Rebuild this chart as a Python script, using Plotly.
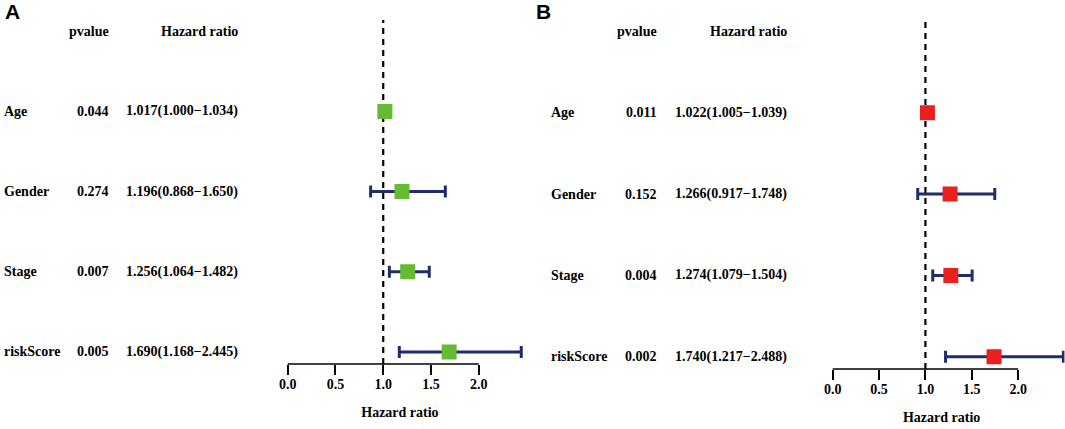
import plotly.graph_objects as go

# data
variables = ["Age", "Gender", "Stage", "riskScore"]
row_pos = [4, 3, 2, 1]

pval_a = ["0.044", "0.274", "0.007", "0.005"]
hr_a = [1.017, 1.196, 1.256, 1.690]
low_a = [1.000, 0.868, 1.064, 1.168]
high_a = [1.034, 1.650, 1.482, 2.445]

pval_b = ["0.011", "0.152", "0.004", "0.002"]
hr_b = [1.022, 1.266, 1.274, 1.740]
low_b = [1.005, 0.917, 1.079, 1.217]
high_b = [1.039, 1.748, 1.504, 2.488]

tick_vals = [0.0, 0.5, 1.0, 1.5, 2.0]
tick_text = ["0.0", "0.5", "1.0", "1.5", "2.0"]

W, H = 1065, 429
SERIF = "Liberation Serif, Times New Roman, serif"
NAVY = "#1f2d6b"

fig = go.Figure()


def hr_label(h, lo, hi):
    return f"{h:.3f}({lo:.3f}\u2212{hi:.3f})"


panels = [
    # letter, pvals, hr, low, high, colour, xaxis, yaxis, x domain, y domain, text columns (px), letter x
    ("A", pval_a, hr_a, low_a, high_a, "#66bb33", "x", "y",
     [273.4 / W, 526.5 / W], [(H - 364) / H, (H - 20) / H], (2, 111, 240), 12),
    ("B", pval_b, hr_b, low_b, high_b, "#e8211f", "x2", "y2",
     [818.8 / W, 1064.5 / W], [(H - 369) / H, (H - 20) / H], (549, 659, 789), 543),
]

for letter, pv, hr, lo, hi, col, xa, ya, xdom, ydom, cols, letter_x in panels:
    fig.add_trace(go.Scatter(
        x=hr, y=row_pos, xaxis=xa, yaxis=ya,
        mode="markers",
        marker=dict(symbol="square", size=15, color=col, line=dict(width=0)),
        error_x=dict(type="data", symmetric=False,
                     array=[h2 - h1 for h1, h2 in zip(hr, hi)],
                     arrayminus=[h1 - l1 for h1, l1 in zip(hr, lo)],
                     color=NAVY, thickness=3, width=6),
        showlegend=False, hoverinfo="skip",
    ))

    # reference line at HR = 1 (behind the markers)
    fig.add_shape(type="line", xref=xa, yref=ya + " domain", layer="below",
                  x0=1, x1=1, y0=0, y1=1,
                  line=dict(color="black", width=2.2, dash="6px,5px"))
    # axis line only across the tick range
    fig.add_shape(type="line", xref=xa, yref=ya + " domain", layer="below",
                  x0=tick_vals[0], x1=tick_vals[-1], y0=0, y1=0,
                  line=dict(color="black", width=1.5))

    lab_x, p_x, hr_x = cols
    txt_font = dict(family=SERIF, size=14, color="black")
    fig.add_annotation(text="<b>pvalue</b>", x=p_x / W, xref="paper", xanchor="right",
                       y=5, yref=ya, showarrow=False, font=txt_font)
    fig.add_annotation(text="<b>Hazard ratio</b>", x=hr_x / W, xref="paper", xanchor="right",
                       y=5, yref=ya, showarrow=False, font=txt_font)
    for name, yv, p, h1, l1, u1 in zip(variables, row_pos, pv, hr, lo, hi):
        fig.add_annotation(text=f"<b>{name}</b>", x=lab_x / W, xref="paper", xanchor="left",
                           y=yv, yref=ya, showarrow=False, font=txt_font)
        fig.add_annotation(text=f"<b>{p}</b>", x=p_x / W, xref="paper", xanchor="right",
                           y=yv, yref=ya, showarrow=False, font=txt_font)
        fig.add_annotation(text=f"<b>{hr_label(h1, l1, u1)}</b>", x=hr_x / W, xref="paper",
                           xanchor="right", y=yv, yref=ya, showarrow=False, font=txt_font)

    fig.add_annotation(text=f"<b>{letter}</b>", x=letter_x / W, xref="paper", xanchor="center",
                       y=1 - 11 / H, yref="paper", yanchor="middle", showarrow=False,
                       font=dict(family="Liberation Sans, Arial, sans-serif", size=21, color="black"))

    ax = dict(domain=xdom, range=[-0.15, 2.5], showgrid=False, zeroline=False,
              showline=False, ticks="outside", ticklen=10, tickwidth=1.5,
              tickcolor="black", tickvals=tick_vals, ticktext=tick_text,
              ticklabelstandoff=-3,
              tickfont=dict(family=SERIF, size=14, color="black", weight="bold"),
              title=dict(text="<b>Hazard ratio</b>", standoff=16,
                         font=dict(family=SERIF, size=14, color="black")),
              automargin=False, fixedrange=True)
    ay = dict(domain=ydom, range=[0.85, 5.14], visible=False, fixedrange=True)
    if xa == "x":
        ax["anchor"] = "y"
        ay["anchor"] = "x"
        fig.update_layout(xaxis=ax, yaxis=ay)
    else:
        ax["anchor"] = "y2"
        ay["anchor"] = "x2"
        fig.update_layout(xaxis2=ax, yaxis2=ay)

fig.update_layout(
    width=W, height=H,
    margin=dict(l=0, r=0, t=0, b=0),
    plot_bgcolor="white", paper_bgcolor="white",
    font=dict(family=SERIF, color="black"),
)

# drop the browser's default body margin so the figure sits at the page corner
fig.write_html("out.html", config={"displayModeBar": False},
               post_script="document.body.style.margin='0';")
